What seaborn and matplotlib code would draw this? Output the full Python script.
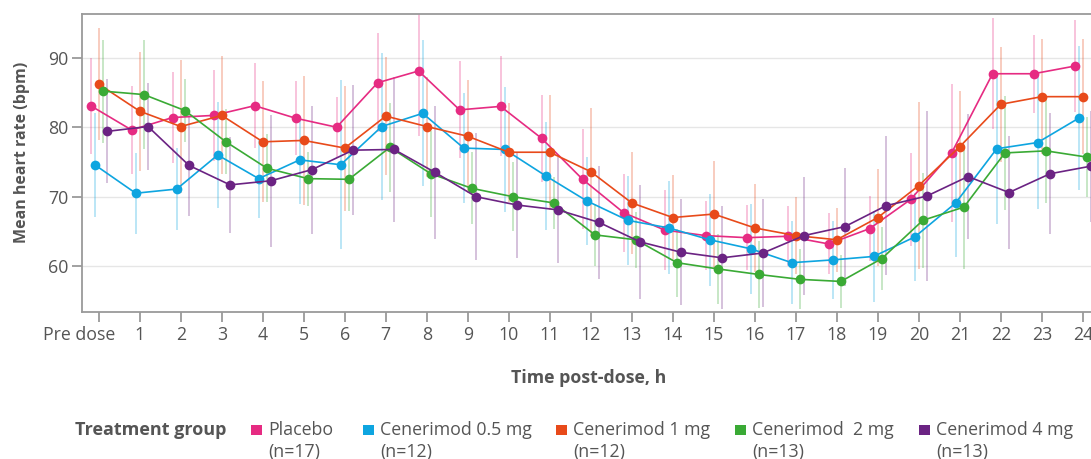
import numpy as np
import pandas as pd
import matplotlib
matplotlib.use("Agg")
import matplotlib.pyplot as plt
import matplotlib.transforms as mtransforms
import seaborn as sns
from matplotlib.patches import Rectangle

# ---------------- data ----------------
hours = list(range(25))
tick_labels = ["Pre dose"] + [str(h) for h in range(1, 25)]
groups = ["Placebo", "Cenerimod 0.5 mg", "Cenerimod 1 mg", "Cenerimod  2 mg", "Cenerimod 4 mg"]
n_labels = ["(n=17)", "(n=12)", "(n=12)", "(n=13)", "(n=13)"]

placebo = [83.1, 79.6, 81.4, 81.7, 83.1, 81.3, 80.0, 86.4, 88.1, 82.5, 83.0, 78.4, 72.5,
           67.7, 65.2, 64.4, 64.1, 64.3, 63.2, 65.4, 69.6, 76.3, 87.7, 87.7, 88.8]
placebo_err = [6.9, 6.3, 6.6, 6.6, 6.1, 5.3, 4.4, 7.1, 9.4, 7.0, 7.2, 6.3, 7.2,
               5.6, 5.7, 5.0, 4.7, 4.3, 4.4, 4.7, 6.7, 9.9, 8.0, 5.6, 6.6]
dose05 = [74.6, 70.5, 71.1, 76.0, 72.6, 75.3, 74.6, 80.1, 82.0, 77.0, 76.8, 73.0, 69.4,
          66.6, 65.5, 63.8, 62.5, 60.5, 60.9, 61.4, 64.2, 69.1, 76.9, 77.8, 81.3]
dose05_err = [7.5, 5.8, 5.9, 7.7, 5.6, 6.3, 12.2, 10.6, 10.5, 7.9, 9.0, 7.8, 6.3,
              6.4, 6.7, 6.6, 6.5, 6.0, 5.6, 6.5, 6.3, 7.8, 10.9, 9.6, 10.4]
dose1 = [86.2, 82.3, 80.1, 81.7, 77.9, 78.1, 77.0, 81.6, 80.1, 78.7, 76.4, 76.4, 73.6,
         69.1, 67.0, 67.5, 65.5, 64.4, 63.8, 67.0, 71.6, 77.2, 83.3, 84.4, 84.4]
dose1_err = [8.1, 8.6, 9.6, 8.5, 8.7, 9.3, 9.0, 8.5, 7.2, 8.1, 7.1, 8.3, 9.2,
             7.4, 6.1, 7.7, 6.3, 5.5, 4.6, 7.0, 12.0, 8.0, 8.3, 8.3, 8.3]
dose2 = [85.2, 84.7, 82.4, 77.9, 74.1, 72.6, 72.5, 77.1, 73.3, 71.2, 70.0, 69.1, 64.5,
         63.8, 60.5, 59.6, 58.8, 58.1, 57.8, 61.1, 66.6, 68.5, 76.3, 76.6, 75.7]
dose2_err = [7.4, 7.8, 4.5, 4.7, 4.9, 3.9, 4.6, 6.4, 6.2, 5.2, 5.0, 3.7, 4.5,
             4.0, 4.9, 5.1, 4.8, 4.3, 3.8, 4.5, 6.8, 8.9, 8.2, 7.5, 5.8]
dose4 = [79.4, 80.1, 74.5, 71.7, 72.3, 73.9, 76.7, 76.8, 73.5, 70.0, 68.8, 68.1, 66.3,
         63.5, 62.0, 61.2, 61.9, 64.4, 65.7, 68.7, 70.1, 72.9, 70.6, 73.3, 74.4]
dose4_err = [7.5, 6.2, 7.3, 6.9, 9.5, 9.2, 9.4, 10.4, 9.6, 9.1, 7.6, 7.6, 8.1,
             8.2, 7.6, 7.4, 7.8, 8.5, 8.5, 10.0, 12.2, 9.0, 8.2, 8.7, 8.0]

means = [placebo, dose05, dose1, dose2, dose4]
errs = [placebo_err, dose05_err, dose1_err, dose2_err, dose4_err]

# ---------------- style ----------------
colors = ["#e62b82", "#0ea5e0", "#e84a1a", "#3aaa35", "#6b2383"]
offsets = [-0.2, -0.1, 0.0, 0.1, 0.2]
txt = "#555555"
spine_c = "#9a9a9a"

sns.set_theme(style="white")
plt.rcParams["font.family"] = ["Open Sans", "DejaVu Sans"]

rows = []
for g, m, e, off in zip(groups, means, errs, offsets):
    for h, v, s in zip(hours, m, e):
        rows.append({"group": g, "hour": h, "x": h + off, "mean": v, "err": s})
df = pd.DataFrame(rows)

W, H = 1091, 459
fig = plt.figure(figsize=(W / 100, H / 100), dpi=100)
ax = fig.add_axes([82 / W, 1 - 312 / H, 1 - 82 / W, (312 - 14) / H])

# error bars
for g, c in zip(groups, colors):
    d = df[df.group == g]
    ax.vlines(d["x"], d["mean"] - d["err"], d["mean"] + d["err"],
              colors=c, alpha=0.33, linewidth=1.2, zorder=1)

sns.lineplot(data=df, x="x", y="mean", hue="group", palette=colors, hue_order=groups,
             marker="o", markersize=7, markeredgewidth=0, linewidth=1.2,
             estimator=None, legend=False, ax=ax, zorder=3)

ax.set_xlim(-0.41, 24.2)
ax.set_ylim(53.4, 96.3)
ax.set_yticks([60, 70, 80, 90])
ax.set_xticks(hours)
ax.set_xticklabels(tick_labels)
ax.grid(axis="y", color="#e6e6e6", linewidth=1)
ax.grid(axis="x", visible=False)
for s in ["top", "left", "bottom"]:
    ax.spines[s].set_color(spine_c)
    ax.spines[s].set_linewidth(1.3)
ax.spines["right"].set_visible(False)
ax.tick_params(axis="x", bottom=True, length=7, width=1.3, color=spine_c,
               labelsize=12.8, labelcolor=txt, pad=3)
ax.tick_params(axis="y", left=True, length=7, width=1.3, color=spine_c,
               labelsize=12.8, labelcolor=txt, pad=3)

# shift "Pre dose" label left as in the reference
first = ax.get_xticklabels()[0]
first.set_transform(first.get_transform() +
                    mtransforms.ScaledTranslation(-0.20, 0, fig.dpi_scale_trans))

ax.set_xlabel("")
ax.set_ylabel("")
fig.text(589 / W, 1 - 378 / H, "Time post-dose, h", fontsize=12.8, fontweight="bold",
         color=txt, ha="center", va="center")
fig.text(22 / W, 1 - 152 / H, "Mean heart rate (bpm)", fontsize=11.5, fontweight="bold",
         color=txt, ha="center", va="center", rotation=90)

# legend (manual)
fig.text(75 / W, 1 - 430 / H, "Treatment group", fontsize=13, fontweight="bold",
         color=txt, ha="left", va="center")
sq_x = [251, 363, 556, 735, 919]
for sx, c, g, n in zip(sq_x, colors, groups, n_labels):
    fig.add_artist(Rectangle((sx / W, 1 - 435 / H), 10.5 / W, 10.5 / H,
                             transform=fig.transFigure, facecolor=c, edgecolor="none"))
    fig.text((sx + 17) / W, 1 - 430 / H, g, fontsize=12.8, color=txt, ha="left", va="center")
    fig.text((sx + 17) / W, 1 - 452 / H, n, fontsize=12.8, color=txt, ha="left", va="center")

fig.savefig("out.png", dpi=100)
